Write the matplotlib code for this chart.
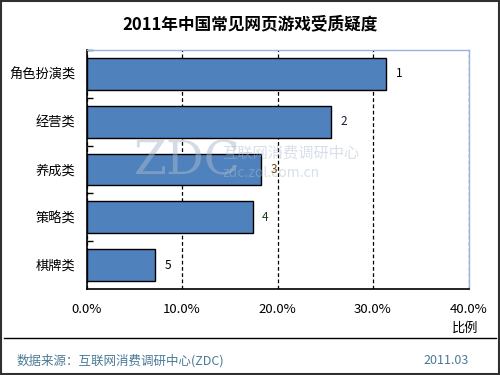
import matplotlib.pyplot as plt
from matplotlib.patches import Rectangle
from matplotlib.lines import Line2D

plt.rcParams['font.family'] = ['Noto Sans CJK SC', 'DejaVu Sans']

# Data
categories = ["角色扮演类", "经营类", "养成类", "策略类", "棋牌类"]
values = [31.4, 25.6, 18.3, 17.4, 7.2]
ranks = ["1", "2", "3", "4", "5"]
rank_colors = ["#000000", "#1a1a40", "#6a4a10", "#1a3a1a", "#000000"]
xticks = [0, 10, 20, 30, 40]

fig = plt.figure(figsize=(5, 3.75), dpi=100)
fig.patch.set_facecolor("white")

# outer border
fig.add_artist(Rectangle((0.002, 0.003), 0.995, 0.994, transform=fig.transFigure,
                         fill=False, edgecolor="#303030", linewidth=1.5))

ax = fig.add_axes([86.5 / 500, 1 - 289 / 375, 382 / 500, 239 / 375])

y = list(range(len(categories)))
ax.barh(y, values, height=0.667, color="#4f81bd", edgecolor="black", linewidth=1, zorder=3)

for yi, v, r, c in zip(y, values, ranks, rank_colors):
    ax.text(v + 1.0, yi, r, va="center", ha="left", fontsize=8.5, color=c, zorder=6)

ax.set_xlim(0, 40)
ax.set_ylim(len(categories) - 0.5, -0.5)
ax.set_xticks(xticks)
ax.set_xticklabels([f"{t:.1f}%" for t in xticks], fontsize=9.5)
ax.tick_params(axis="x", length=0, pad=10)
ax.set_yticks(y)
ax.set_yticklabels(categories, fontsize=9.5)
ax.tick_params(axis="y", length=0, pad=8)
ax.set_yticks([i + 0.5 for i in range(-1, len(categories) - 1)], minor=True)
ax.tick_params(axis="y", which="minor", direction="in", length=4, width=1, color="black")

ax.xaxis.grid(True, linestyle=(0, (3, 2)), color="black", linewidth=0.9, zorder=1)

for s in ["left", "bottom"]:
    ax.spines[s].set_color("black")
    ax.spines[s].set_linewidth(1.2)
for s in ["top", "right"]:
    ax.spines[s].set_color("#99b4e0")
    ax.spines[s].set_linewidth(1)

# watermark
ax.text(0.125, 0.53, "ZDC", transform=ax.transAxes, fontsize=34, color="#a8b8cc",
        alpha=0.5, family="DejaVu Serif", va="center", zorder=5)
ax.text(0.355, 0.57, "互联网消费调研中心", transform=ax.transAxes, fontsize=11,
        color="#a8b8cc", alpha=0.45, va="center", zorder=5)
ax.text(0.355, 0.485, "zdc.zol.com.cn", transform=ax.transAxes, fontsize=10,
        color="#a8b8cc", alpha=0.45, va="center", zorder=5)

# title and labels
fig.text(0.5, 1 - 24 / 375, "2011年中国常见网页游戏受质疑度", ha="center", va="center",
         fontsize=12, fontweight="bold")
fig.text(465 / 500, 1 - 328 / 375, "比例", ha="center", va="center", fontsize=9.5)

fig.add_artist(Line2D([4 / 500, 496 / 500], [1 - 338 / 375, 1 - 338 / 375],
                      transform=fig.transFigure, color="black", linewidth=1))
fig.text(17 / 500, 1 - 361 / 375, "数据来源：互联网消费调研中心(ZDC)", ha="left", va="center",
         fontsize=9, color="#4a7a96")
fig.text(446 / 500, 1 - 361 / 375, "2011.03", ha="center", va="center",
         fontsize=9, color="#4a7a96")

fig.savefig("out.png", dpi=100)
